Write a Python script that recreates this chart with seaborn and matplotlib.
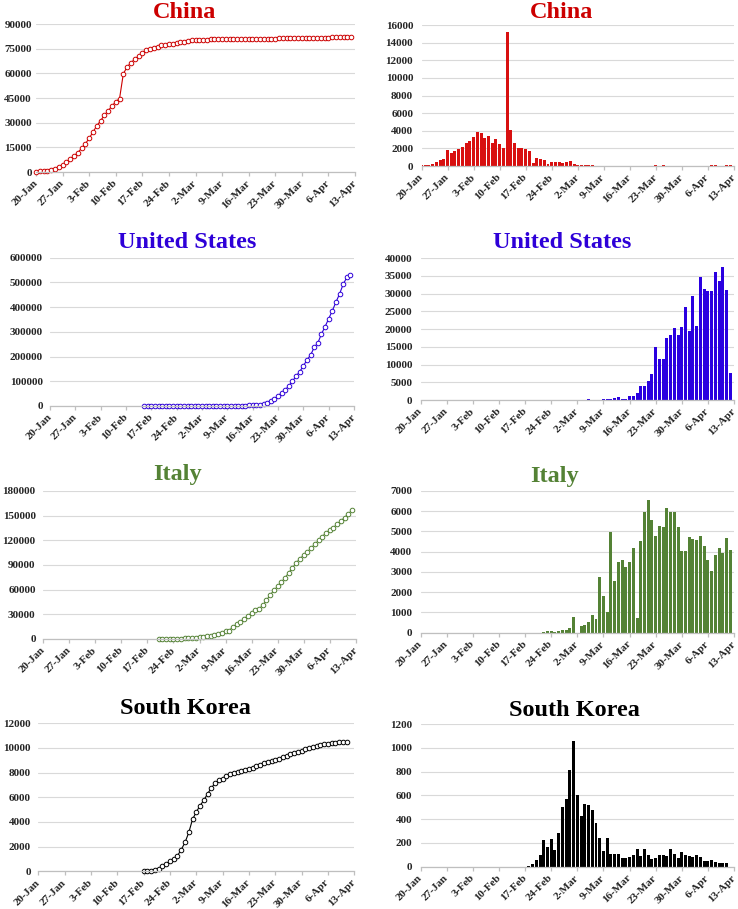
import numpy as np
import pandas as pd
import matplotlib
matplotlib.use("Agg")
import matplotlib.pyplot as plt
import seaborn as sns

sns.set_style("white")
plt.rcParams['font.family'] = ['Liberation Serif', 'DejaVu Serif']
plt.rcParams['font.weight'] = 'bold'

N_DAYS = 84  # 20-Jan ... 12-Apr
tick_labels = ['20-Jan', '27-Jan', '3-Feb', '10-Feb', '17-Feb', '24-Feb', '2-Mar',
               '9-Mar', '16-Mar', '23-Mar', '30-Mar', '6-Apr', '13-Apr']

# ---------------- China ----------------
china_cum_start = 0
china_cum = [291, 440, 571, 830, 1287, 1975, 2744, 4515, 5974, 7711, 9692, 11791,
             14380, 17205, 20438, 24324, 28018, 31161, 34546, 37198, 40171, 42638,
             44653, 59804, 63851, 66492, 68500, 70548, 72436, 74185, 74576, 75465,
             76288, 76936, 77150, 77658, 78064, 78497, 78824, 79251, 79824, 80026,
             80151, 80270, 80409, 80552, 80651, 80695, 80735, 80754, 80778, 80793,
             80813, 80824, 80844, 80860, 80881, 80894, 80928, 80967, 81008, 81054,
             81093, 81171, 81218, 81285, 81340, 81394, 81439, 81470, 81518, 81554,
             81589, 81620, 81639, 81669, 81708, 81740, 81802, 81865, 81907, 81953,
             82052, 82160]
china_new_start = 0
china_new = [77, 149, 131, 259, 444, 688, 769, 1771, 1459, 1737, 1982, 2102, 2590,
             2829, 3235, 3887, 3694, 3143, 3399, 2656, 3062, 2478, 2015, 15152, 4050,
             2641, 2009, 2048, 1886, 1749, 391, 889, 823, 648, 214, 508, 406, 433, 327,
             427, 573, 202, 125, 119, 139, 143, 99, 44, 40, 19, 24, 15, 8, 11, 20, 16,
             21, 13, 34, 0, 0, 0, 0, 78, 47, 67, 55, 54, 45, 31, 48, 36, 35, 31, 19,
             30, 0, 32, 62, 63, 0, 0, 99, 108]

# ---------------- United States ----------------
us_cum_start = 26
us_cum = [15, 15, 15, 15, 15, 35, 35, 35, 53, 53, 57, 60, 60, 68, 70, 75, 90, 100,
          110, 120, 150, 200, 300, 400, 500, 700, 1000, 1300, 1700, 2200, 3000, 4000,
          5000, 8000, 12000, 19000, 27000, 40000, 54000, 65000, 82000, 100000,
          121000, 139000, 162000, 186000, 206000, 237000, 255000, 291000, 321000,
          353000, 385000, 420000, 453000, 492000, 520000, 530000]
us_new_start = 45
us_new = [150, 50, 100, 100, 150, 250, 300, 560, 850, 375, 280, 1030, 1030, 1880,
          3850, 4040, 5350, 7230, 14930, 11640, 11640, 17560, 18300, 20380, 18300,
          20560, 26100, 19530, 29300, 20840, 34550, 31170, 30800, 30700, 35960,
          33520, 37370, 30890, 7600]

# ---------------- Italy ----------------
italy_cum_start = 31
italy_cum = [3, 20, 80, 160, 230, 320, 470, 650, 890, 1130, 1690, 2040, 2500, 3090,
             3860, 4640, 5880, 7380, 9170, 10150, 15100, 17650, 21150, 24750, 28000,
             31500, 35700, 36450, 41000, 47000, 53600, 59100, 63900, 69200, 74400,
             80600, 86500, 92500, 97700, 101700, 105800, 110600, 115200, 119800,
             124600, 128900, 132500, 135600, 139400, 143600, 147600, 152300, 156400]
italy_new_start = 33
italy_new = [20, 100, 80, 40, 80, 130, 130, 230, 800, 0, 350, 400, 550, 850, 700,
             2750, 1800, 1000, 4950, 2550, 3500, 3600, 3250, 3500, 4200, 750, 4550,
             5950, 6550, 5550, 4800, 5250, 5200, 6150, 5950, 5950, 5200, 4050, 4050,
             4750, 4650, 4600, 4800, 4300, 3600, 3050, 3850, 4200, 3950, 4700, 4100]

# ---------------- South Korea ----------------
korea_cum_start = 28
korea_cum = [30, 31, 51, 104, 204, 433, 602, 833, 977, 1261, 1766, 2337, 3150, 4212,
             4812, 5328, 5766, 6284, 6767, 7134, 7382, 7513, 7755, 7869, 7979, 8086,
             8162, 8236, 8320, 8413, 8565, 8652, 8799, 8897, 8961, 9037, 9137, 9241,
             9332, 9478, 9583, 9661, 9786, 9887, 9976, 10062, 10156, 10237, 10284,
             10331, 10384, 10423, 10450, 10480, 10512]
korea_new_start = 29
korea_new = [5, 20, 55, 100, 225, 165, 230, 140, 280, 500, 570, 810, 1060, 600, 425,
             525, 515, 480, 365, 245, 130, 240, 110, 110, 105, 75, 75, 85, 95, 150, 90,
             145, 100, 65, 75, 100, 100, 90, 145, 105, 75, 125, 100, 90, 85, 95, 80,
             50, 50, 55, 40, 30, 30, 30]

countries = ['China', 'United States', 'Italy', 'South Korea']
colors = {'China': '#CC0000', 'United States': '#2E00D8',
          'Italy': '#548235', 'South Korea': '#000000'}
bar_colors = {'China': '#D81010', 'United States': '#2A00E0',
              'Italy': '#548235', 'South Korea': '#000000'}
series = {
    'China': (china_cum_start, china_cum, china_new_start, china_new),
    'United States': (us_cum_start, us_cum, us_new_start, us_new),
    'Italy': (italy_cum_start, italy_cum, italy_new_start, italy_new),
    'South Korea': (korea_cum_start, korea_cum, korea_new_start, korea_new),
}
cum_max = {'China': (90000, 15000), 'United States': (600000, 100000),
           'Italy': (180000, 30000), 'South Korea': (12000, 2000)}
new_max = {'China': (16000, 2000), 'United States': (40000, 5000),
           'Italy': (7000, 1000), 'South Korea': (1200, 200)}

W, H = 738, 909
fig = plt.figure(figsize=(W / 100, H / 100), dpi=100)

# axes boxes in pixels: (left, top, right, bottom)
left_boxes = [(36, 24, 355, 172), (50, 257.7, 354, 406), (43.3, 491, 355.7, 639),
              (38.3, 723.3, 354.3, 871.3)]
left_pads = [3.0, 5.0, 5.5, 5.3]
right_boxes = [(421.5, 25, 734, 166), (420.7, 258, 734, 400), (420.7, 491, 734, 632.7),
               (420.7, 724, 734, 866.7)]
left_titles = [(185, 12), (187.5, 242), (177.5, 475), (185.8, 709)]
right_titles = [(562, 12), (561.7, 243), (554, 476), (574, 710)]


def make_ax(box):
    l, t, r, b = box
    return fig.add_axes([l / W, 1 - b / H, (r - l) / W, (b - t) / H])


def style_ax(ax, ymax, ystep, pad):
    ax.set_xlim(0, 84)
    ax.set_ylim(0, ymax)
    ax.set_yticks(np.arange(0, ymax + 1, ystep))
    ax.set_yticklabels([f"{int(v)}" for v in np.arange(0, ymax + 1, ystep)],
                       fontsize=8, fontweight='bold', family='Liberation Serif')
    ax.set_xticks(np.arange(0, 85, 7))
    ax.set_xticklabels(tick_labels, rotation=45, ha='right', va='center',
                       rotation_mode='anchor',
                       fontsize=8, fontweight='bold', family='Liberation Serif')
    ax.grid(axis='y', color='#D9D9D9', lw=0.8)
    ax.grid(axis='x', visible=False)
    ax.set_axisbelow(True)
    for s in ['left', 'right', 'top']:
        ax.spines[s].set_visible(False)
    ax.spines['bottom'].set_color('#BFBFBF')
    ax.spines['bottom'].set_linewidth(0.9)
    ax.tick_params(axis='x', which='both', bottom=True, length=3, width=0.9,
                   color='#BFBFBF', pad=4, direction='out')
    ax.tick_params(axis='y', left=False, length=0, pad=pad)
    ax.set_xlabel('')
    ax.set_ylabel('')


for i, c in enumerate(countries):
    cs, cv, ns, nv = series[c]
    col = colors[c]
    # cumulative
    ax = make_ax(left_boxes[i])
    dfc = pd.DataFrame({'day': np.arange(cs, cs + len(cv)), 'cases': cv})
    sns.lineplot(data=dfc, x='day', y='cases', ax=ax, color=col, lw=0.8,
                 marker='o', markersize=3.3, markerfacecolor='white',
                 markeredgecolor=col, markeredgewidth=0.7, clip_on=False)
    style_ax(ax, *cum_max[c], pad=left_pads[i])
    fig.text(left_titles[i][0] / W, 1 - left_titles[i][1] / H, c, ha='center',
             va='center', fontsize=17.5, fontweight='bold', color=col,
             family='Liberation Serif')
    # daily new
    ax2 = make_ax(right_boxes[i])
    dfn = pd.DataFrame({'day': np.arange(ns, ns + len(nv)), 'new': nv})
    sns.barplot(data=dfn, x='day', y='new', ax=ax2, native_scale=True,
                color=bar_colors[c], saturation=1, width=0.8, linewidth=0)
    style_ax(ax2, *new_max[c], pad=6)
    fig.text(right_titles[i][0] / W, 1 - right_titles[i][1] / H, c, ha='center',
             va='center', fontsize=17.5, fontweight='bold', color=col,
             family='Liberation Serif')

fig.savefig('out.png', dpi=100)
